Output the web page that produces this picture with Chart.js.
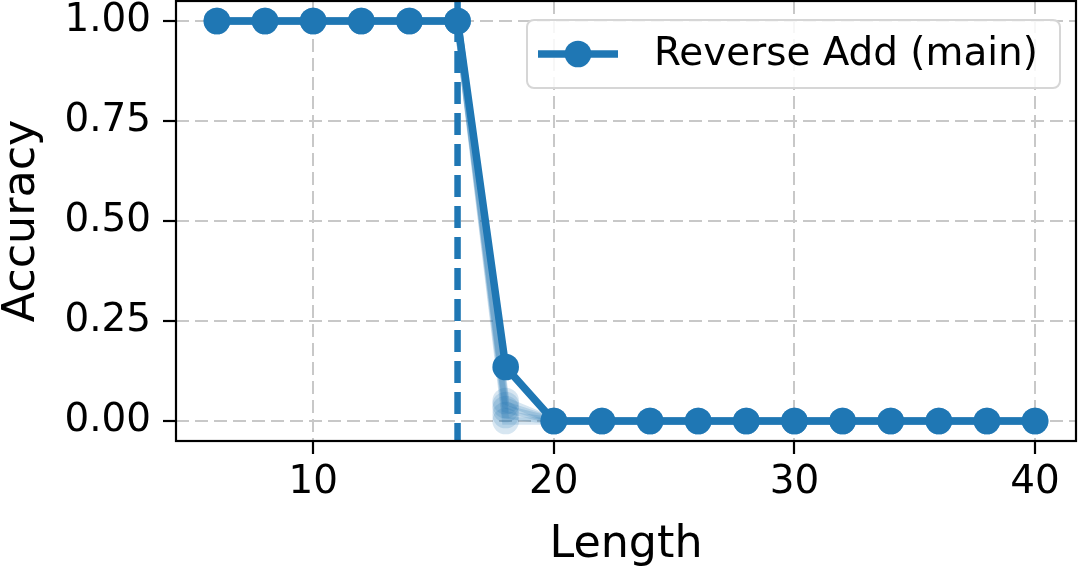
<!DOCTYPE html>
<html>
<head>
<meta charset="utf-8">
<script src="https://cdn.jsdelivr.net/npm/chart.js@4/dist/chart.umd.min.js"></script>
<style>
  html, body { margin: 0; padding: 0; background: #ffffff; }
  #wrap { width: 1078px; height: 569px; position: relative; }
</style>
</head>
<body>
<div id="wrap"><canvas id="c" width="1078" height="569"></canvas></div>
<script>
// ---- data ----
const lengths = [6, 8, 10, 12, 14, 16, 18, 20, 22, 24, 26, 28, 30, 32, 34, 36, 38, 40];
const mainAcc = [1, 1, 1, 1, 1, 1, 0.135, 0, 0, 0, 0, 0, 0, 0, 0, 0, 0, 0];
const seedA = [1, 1, 1, 1, 1, 1, 0.05, 0, 0, 0, 0, 0, 0, 0, 0, 0, 0, 0];
const seedB = [1, 1, 1, 1, 1, 1, 0.04, 0, 0, 0, 0, 0, 0, 0, 0, 0, 0, 0];
const seedC = [1, 1, 1, 1, 1, 1, 0.03, 0, 0, 0, 0, 0, 0, 0, 0, 0, 0, 0];
const seedD = [1, 1, 1, 1, 1, 1, 0.015, 0, 0, 0, 0, 0, 0, 0, 0, 0, 0, 0];
const seedE = [1, 1, 1, 1, 1, 1, 0.0, 0, 0, 0, 0, 0, 0, 0, 0, 0, 0, 0];
const trainLimit = 16;
const xTicks = [10, 20, 30, 40];
const yTicks = [0, 0.25, 0.5, 0.75, 1.0];
const seriesLabel = 'Reverse Add (main)';
const xTitle = 'Length';
const yTitle = 'Accuracy';

const BLUE = '#1f77b4';
const FONT = "'DejaVu Sans', sans-serif";
const LW = 7.5, PR = 13.3;

const toPts = (ys) => lengths.map((x, i) => ({ x: x, y: ys[i] }));

const seedStyle = (ys) => ({
  data: toPts(ys),
  borderColor: 'rgba(31,119,180,0.18)',
  backgroundColor: 'rgba(31,119,180,0.18)',
  borderWidth: LW,
  pointRadius: PR,
  pointHoverRadius: PR,
  pointBorderWidth: 0
});

const datasets = [
  {
    label: seriesLabel,
    data: toPts(mainAcc),
    borderColor: BLUE,
    backgroundColor: BLUE,
    borderWidth: LW,
    pointRadius: PR,
    pointHoverRadius: PR,
    pointBorderWidth: 0
  },
  {
    label: 'limit',
    data: [{ x: trainLimit, y: -0.06 }, { x: trainLimit, y: 1.06 }],
    borderColor: BLUE,
    borderWidth: 6.5,
    borderDash: [22, 9],
    pointRadius: 0,
    pointHoverRadius: 0
  },
  seedStyle(seedA), seedStyle(seedB), seedStyle(seedC), seedStyle(seedD), seedStyle(seedE)
];

const framePlugin = {
  id: 'frame',
  afterDatasetsDraw(chart) {
    const a = chart.chartArea, ctx = chart.ctx;
    ctx.save();
    ctx.strokeStyle = '#000';
    ctx.lineWidth = 2.2;
    ctx.strokeRect(a.left, a.top, a.right - a.left, a.bottom - a.top);
    ctx.restore();
  },
  afterDraw(chart) {
    // legend
    const ctx = chart.ctx;
    const bx = 527, by = 20, bw = 533, bh = 68, r = 7;
    ctx.save();
    ctx.beginPath();
    ctx.moveTo(bx + r, by);
    ctx.arcTo(bx + bw, by, bx + bw, by + bh, r);
    ctx.arcTo(bx + bw, by + bh, bx, by + bh, r);
    ctx.arcTo(bx, by + bh, bx, by, r);
    ctx.arcTo(bx, by, bx + bw, by, r);
    ctx.closePath();
    ctx.fillStyle = 'rgba(255,255,255,0.85)';
    ctx.fill();
    ctx.strokeStyle = '#d6d6d6';
    ctx.lineWidth = 2;
    ctx.stroke();
    const cy = by + bh / 2;
    ctx.strokeStyle = BLUE;
    ctx.lineWidth = LW;
    ctx.beginPath();
    ctx.moveTo(538, cy);
    ctx.lineTo(618, cy);
    ctx.stroke();
    ctx.fillStyle = BLUE;
    ctx.beginPath();
    ctx.arc(578, cy, PR, 0, Math.PI * 2);
    ctx.fill();
    ctx.fillStyle = '#000';
    ctx.font = '38.9px ' + FONT;
    ctx.textBaseline = 'middle';
    ctx.textAlign = 'left';
    ctx.fillText(seriesLabel, 654, cy + 1);
    ctx.restore();
  }
};

new Chart(document.getElementById('c'), {
  type: 'line',
  data: { datasets: datasets },
  plugins: [framePlugin],
  options: {
    responsive: false,
    animation: false,
    devicePixelRatio: 1,
    layout: { autoPadding: false, padding: { top: 1, right: 2, left: 0, bottom: 0 } },
    plugins: {
      legend: { display: false },
      tooltip: { enabled: false }
    },
    scales: {
      x: {
        type: 'linear',
        min: 4.3,
        max: 41.7,
        afterBuildTicks: (s) => { s.ticks = xTicks.map(v => ({ value: v })); },
        afterFit: (s) => { s.height = 128; s.paddingLeft = 0; s.paddingRight = 0; },
        ticks: {
          color: '#000',
          font: { family: FONT, size: 38.9, lineHeight: 1 },
          padding: 9,
          maxRotation: 0,
          callback: (v) => String(v)
        },
        grid: {
          color: '#c8c8c8',
          lineWidth: 2,
          tickColor: '#000',
          tickLength: 13,
          tickWidth: 2.2
        },
        border: { display: false, dash: [13, 6] },
        title: {
          display: true,
          text: xTitle,
          color: '#000',
          font: { family: FONT, size: 44.4, lineHeight: 1 },
          padding: { top: 0, bottom: 1 }
        }
      },
      y: {
        type: 'linear',
        min: -0.05,
        max: 1.05,
        afterBuildTicks: (s) => { s.ticks = yTicks.map(v => ({ value: v })); },
        afterFit: (s) => { s.width = 176; s.paddingTop = 0; s.paddingBottom = 0; },
        ticks: {
          color: '#000',
          font: { family: FONT, size: 38.9, lineHeight: 1 },
          padding: 12,
          callback: (v) => Number(v).toFixed(2)
        },
        grid: {
          color: '#c8c8c8',
          lineWidth: 2,
          tickColor: '#000',
          tickLength: 13,
          tickWidth: 2.2
        },
        border: { display: false, dash: [13, 6] },
        title: {
          display: true,
          text: yTitle,
          color: '#000',
          font: { family: FONT, size: 44.4, lineHeight: 1 },
          padding: { top: 0, bottom: 0 }
        }
      }
    }
  }
});
</script>
</body>
</html>
